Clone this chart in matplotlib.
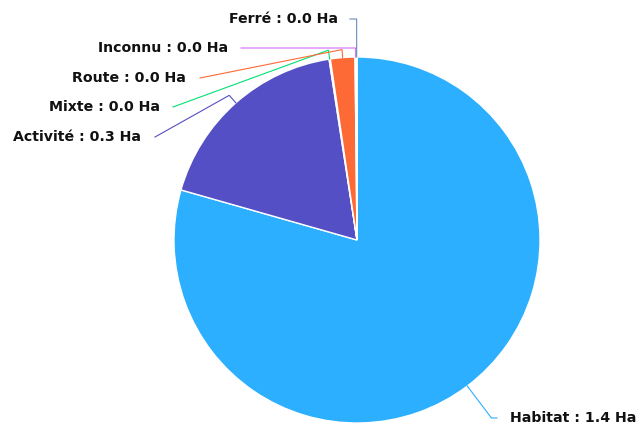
import numpy as np
from matplotlib import pyplot as plt

# Surface per land use (Ha)
categories = ['Habitat', 'Activité', 'Mixte', 'Route', 'Inconnu', 'Ferré']
values = [1.40, 0.32, 0.002, 0.038, 0.002, 0.001]
colors = ['#2caffe', '#544fc5', '#00e272', '#fe6a35', '#d568fb', '#6b8abc']

# label layout in pixels (x, y from top), connector anchor, radial offset, crook
label_xy = {'Habitat': (510, 418), 'Activité': (141, 137), 'Mixte': (160, 107),
            'Route': (186, 78), 'Inconnu': (228, 48), 'Ferré': (338, 19)}
anchor_xy = {'Habitat': (497, 418), 'Activité': (155, 137), 'Mixte': (173, 107),
             'Route': (200, 78), 'Inconnu': (241, 48), 'Ferré': (350, 19)}
radial_off = {'Habitat': 40, 'Activité': 10, 'Mixte': 9, 'Route': 8, 'Inconnu': 9, 'Ferré': 8}
crooked = {'Habitat': True, 'Activité': False, 'Mixte': False, 'Route': False,
           'Inconnu': True, 'Ferré': True}

W, H = 638, 425
cx, cy, r = 357, 240, 183

fig = plt.figure(figsize=(W / 100, H / 100), dpi=100)
ax = fig.add_axes([0, 0, 1, 1])

wedges, _ = ax.pie(values, colors=colors, startangle=90, counterclock=False,
                   center=(cx, H - cy), radius=r,
                   wedgeprops=dict(edgecolor='white', linewidth=1))

for w, name, val, col in zip(wedges, categories, values, colors):
    mid = np.deg2rad((w.theta1 + w.theta2) / 2)
    dx, dy = np.cos(mid), np.sin(mid)
    ex, ey = cx + dx * r, (H - cy) + dy * r
    ro = r + radial_off[name]
    rx, ry = cx + dx * ro, (H - cy) + dy * ro
    ax_, ay_ = anchor_xy[name]
    ay_ = H - ay_
    if crooked[name]:
        xs = [ax_, rx, rx, ex]
        ys = [ay_, ay_, ry, ey]
    else:
        xs = [ax_, rx, ex]
        ys = [ay_, ry, ey]
    ax.plot(xs, ys, color=col, lw=0.8, solid_joinstyle='miter')
    lx, ly = label_xy[name]
    ha = 'left' if lx > cx else 'right'
    ax.text(lx, H - ly, f'{name} : {val:.1f} Ha', ha=ha, va='center',
            fontsize=10.2, fontweight='bold', color='#111111')

ax.set_xlim(0, W)
ax.set_ylim(0, H)
ax.set_aspect('auto')
ax.axis('off')

fig.savefig('out.png', dpi=100, facecolor='white')
